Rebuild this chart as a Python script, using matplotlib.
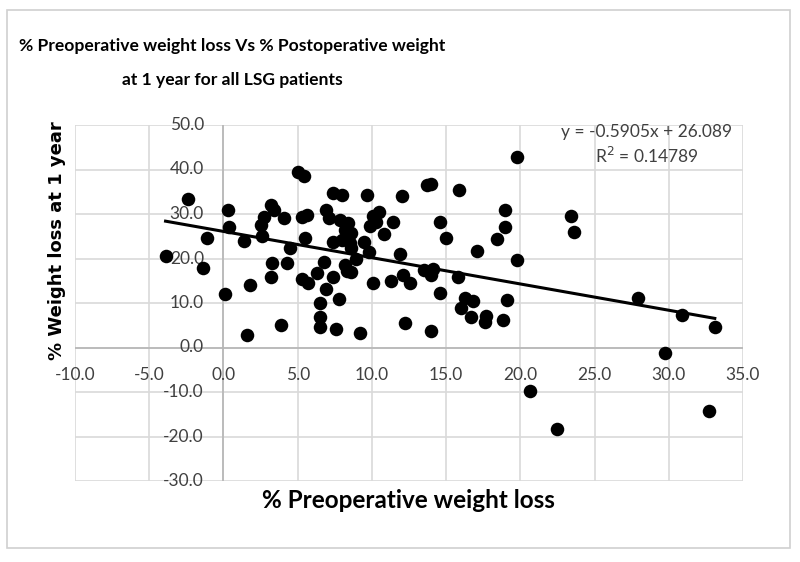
import numpy as np
import matplotlib
matplotlib.use('Agg')
import matplotlib.pyplot as plt
from matplotlib.patches import Rectangle

# % preoperative weight loss (x) and % weight loss at 1 year (y)
pre_loss = [-3.9, -2.4, -1.4, -1.1, 0.1, 0.3, 0.4, 1.4, 1.6, 1.8,
            2.5, 2.7, 2.6, 3.2, 3.4, 3.3, 3.2, 3.9, 4.1, 4.3,
            4.5, 5.0, 5.4, 5.3, 5.6, 5.5, 5.3, 5.7, 6.3, 6.5,
            6.5, 6.5, 6.8, 6.9, 6.9, 7.1, 7.4, 8.0, 7.4, 7.4,
            7.6, 7.8, 7.85, 8.4, 8.2, 8.6, 8.0, 8.5, 8.6, 8.2,
            8.6, 8.3, 8.9, 9.2, 9.65, 9.5, 9.8, 10.1, 10.5, 9.9,
            10.3, 10.8, 11.4, 10.1, 11.3, 11.9, 12.0, 12.1, 12.6, 12.2,
            13.5, 14.1, 14.0, 14.6, 15.8, 13.7, 14.0, 15.9, 14.6, 15.0,
            17.1, 18.4, 19.0, 19.0, 19.8, 19.8, 16.3, 16.8, 16.0, 16.7,
            17.7, 17.6, 18.8, 19.1, 14.0, 23.4, 23.6, 27.9, 30.9, 33.1,
            29.75, 20.65, 22.5, 32.7]
loss_1yr = [20.6, 33.3, 17.8, 24.7, 12.0, 30.9, 27.0, 23.9, 2.8, 14.0,
            27.5, 29.4, 25.1, 32.0, 30.9, 18.9, 15.9, 5.1, 29.2, 18.9,
            22.3, 39.5, 38.6, 29.4, 29.8, 24.5, 15.5, 14.6, 16.7, 9.9,
            6.9, 4.7, 19.2, 13.1, 30.9, 29.0, 34.7, 34.3, 23.8, 15.9,
            4.1, 10.8, 28.7, 27.9, 26.4, 25.7, 24.2, 23.4, 22.3, 18.5,
            17.0, 17.2, 20.0, 3.3, 34.2, 23.6, 21.5, 29.6, 30.5, 27.2,
            28.3, 25.4, 28.3, 14.4, 15.0, 20.9, 34.1, 16.2, 14.4, 5.4,
            17.5, 17.7, 16.2, 12.3, 15.9, 36.6, 36.8, 35.4, 28.2, 24.6,
            21.7, 24.4, 30.9, 27.0, 42.9, 19.7, 11.1, 10.5, 8.8, 6.8,
            7.0, 5.8, 6.2, 10.7, 3.8, 29.6, 25.9, 11.2, 7.2, 4.5,
            -1.3, -9.7, -18.4, -14.2]

# trendline as reported on the chart
slope = -0.5905
intercept = 26.089
r_squared = 0.14789

x_ticks = [-10, -5, 0, 5, 10, 15, 20, 25, 30, 35]
y_ticks = [-30, -20, -10, 0, 10, 20, 30, 40, 50]

pre_loss = np.array(pre_loss)
loss_1yr = np.array(loss_1yr)

fig = plt.figure(figsize=(8, 5.62), dpi=100)
fig.patch.set_facecolor('white')

# light grey chart frame
fig.patches.append(Rectangle((7 / 800, 1 - 548 / 562), 783 / 800, 538 / 562,
                             transform=fig.transFigure, fill=False,
                             edgecolor='#d0d0d0', linewidth=1.2))

ax = fig.add_axes([75 / 800, 1 - 481 / 562, 668 / 800, 356 / 562])
ax.set_xlim(-10, 35)
ax.set_ylim(-30, 50)
ax.set_xticks(x_ticks)
ax.set_yticks(y_ticks)
ax.tick_params(length=0, labelbottom=False, labelleft=False)
for s in ax.spines.values():
    s.set_visible(False)
ax.grid(True, color='#d9d9d9', linewidth=1.2)
ax.set_axisbelow(True)

# axes cross at the origin, Excel style
ax.axhline(0, color='#b5b5b5', linewidth=1.2, zorder=1)
ax.axvline(0, color='#b5b5b5', linewidth=1.2, zorder=1)

for t in x_ticks:
    ax.annotate('%.1f' % t, xy=(t, 0), xytext=(0, -20), textcoords='offset points',
                ha='center', va='center', fontsize=12.5, family='Lato', color='#404040')
for t in y_ticks:
    ax.annotate('%.1f' % t, xy=(0, t), xytext=(-14, 0), textcoords='offset points',
                ha='right', va='center', fontsize=12.5, family='Lato', color='#404040')

ax.scatter(pre_loss, loss_1yr, s=95, color='black', zorder=3, linewidths=0)

xl = np.array([pre_loss.min(), pre_loss.max()])
ax.plot(xl, slope * xl + intercept, color='black', linewidth=2.2, zorder=4)

ax.text(647 / 800, 1 - 132 / 562, 'y = %.4fx + %.3f' % (slope, intercept),
        transform=fig.transFigure, ha='center', va='center', fontsize=12.5,
        family='Lato', color='#404040')
ax.text(647 / 800, 1 - 156 / 562, 'R$^2$ = %.5f' % r_squared,
        transform=fig.transFigure, ha='center', va='center', fontsize=12.5,
        family='Lato', color='#404040')

fig.text(232 / 800, 1 - 46 / 562, '% Preoperative weight loss Vs % Postoperative weight',
         ha='center', va='center', fontsize=12.6, fontweight='bold', family='Lato')
fig.text(232 / 800, 1 - 80 / 562, 'at 1 year for all LSG patients',
         ha='center', va='center', fontsize=12.6, fontweight='bold', family='Lato')

fig.text(408 / 800, 1 - 500 / 562, '% Preoperative weight loss',
         ha='center', va='center', fontsize=17.5, fontweight='bold', family='Lato')
fig.text(57 / 800, 1 - 241 / 562, '% Weight loss at 1 year', rotation=90,
         ha='center', va='center', fontsize=13, fontweight='bold', family='DejaVu Sans')

fig.savefig('out.png', dpi=100)
